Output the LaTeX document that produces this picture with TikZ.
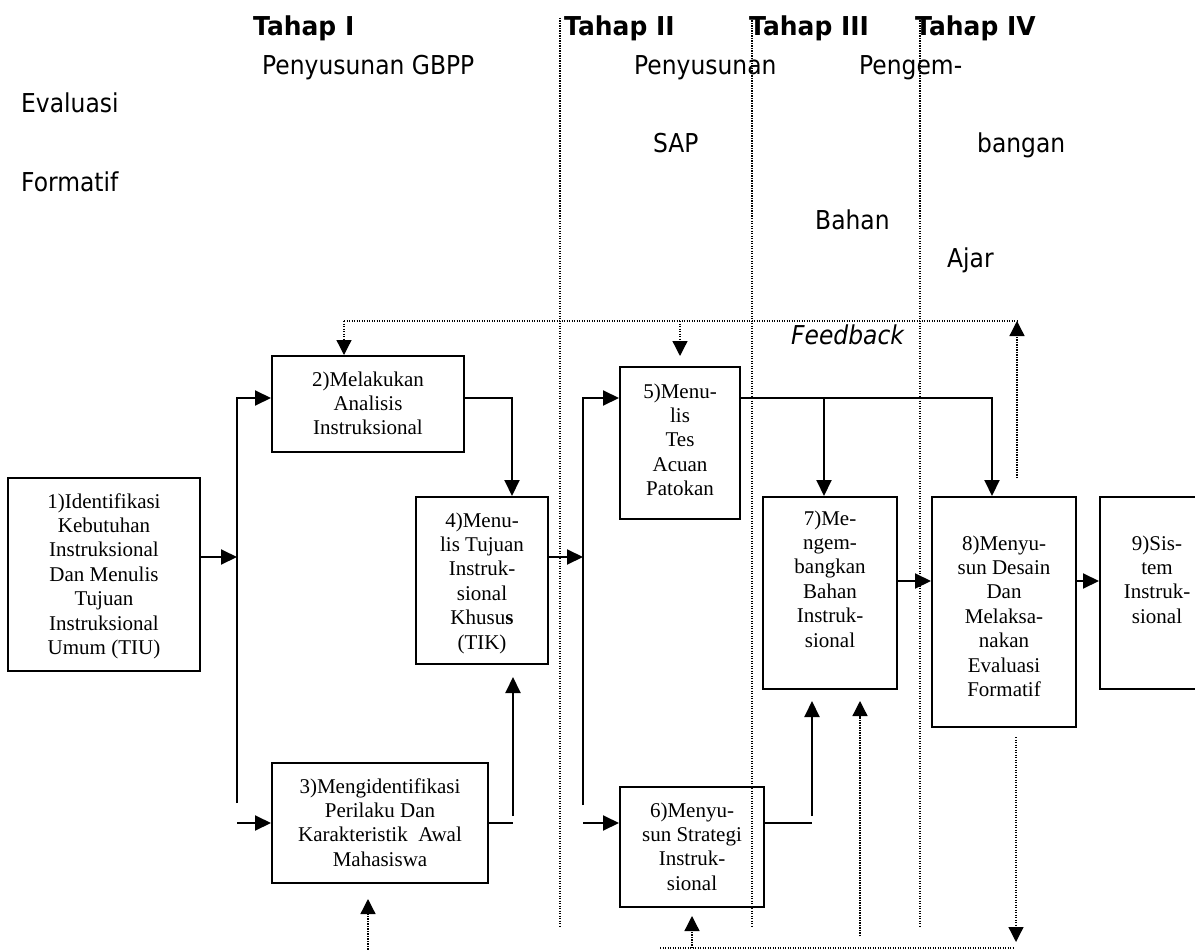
\documentclass[tikz,border=0pt]{standalone}
\usepackage{fontspec}
\setmainfont{Liberation Serif}
\newfontfamily\tahoma[FakeStretch=0.9]{DejaVu Sans}
\newfontfamily\tahomaw[FakeStretch=0.96]{DejaVu Sans}
\usetikzlibrary{arrows.meta}
\newcommand{\boxtext}[1]{\begin{tabular}[t]{@{}c@{}}#1\end{tabular}}
\begin{document}
\begin{tikzpicture}[x=1pt,y=-1pt,
  box/.style={draw, line width=2pt, inner sep=0pt},
  btxt/.style={anchor=base, inner sep=0pt, font=\fontsize{21}{24.4}\selectfont},
  lbl/.style={anchor=base west, inner sep=0pt, font=\tahoma\fontsize{26}{30}\selectfont},
  head/.style={lbl, font=\tahomaw\bfseries\fontsize{26}{30}\selectfont},
  conn/.style={line width=2pt},
  arr/.style={conn, -{Triangle[length=16pt,width=15pt]}},
  dots/.style={line width=1.3pt, dash pattern=on 1.3pt off 1.2pt},
  darr/.style={dots, -{Triangle[length=15pt,width=15pt]}},
  phase/.style={line width=1.3pt, dash pattern=on 1.3pt off 1.2pt}]
\useasboundingbox (0,0) rectangle (1195,950);
\clip (0,0) rectangle (1195,950);

% phase separators
\draw[phase] (560,18) -- (560,927);
\draw[phase] (752,18) -- (752,927);
\draw[phase] (920,18) -- (920,927);

% headings and labels
\node[head] (h1) at (253,36) {Tahap I};
\node[head] (h2) at (564,36) {Tahap II};
\node[head] (h3) at (749,36) {Tahap III};
\node[head] (h4) at (915,36) {Tahap IV};
\node[lbl] (l1) at (262,75) {Penyusunan GBPP};
\node[lbl] (l2) at (21,113) {Evaluasi};
\node[lbl] (l3) at (21,191) {Formatif};
\node[lbl] (l4) at (634,75) {Penyusunan};
\node[lbl] (l5) at (653,152) {SAP};
\node[lbl] (l6) at (859,75) {Pengem-};
\node[lbl] (l7) at (977,152) {bangan};
\node[lbl] (l8) at (815,229) {Bahan};
\node[lbl] (l9) at (947,267) {Ajar};
\node[lbl, font=\tahoma\itshape\fontsize{26}{30}\selectfont] (fb) at (791,344) {Feedback};

% boxes
\node[box, minimum width=192pt, minimum height=193pt] (b1) at (104,574.5) {};
\node[box, minimum width=192pt, minimum height=96pt] (b2) at (368,404) {};
\node[box, minimum width=216pt, minimum height=120pt] (b3) at (380,823) {};
\node[box, minimum width=132pt, minimum height=167pt] (b4) at (482,580.5) {};
\node[box, minimum width=120pt, minimum height=152pt] (b5) at (680,443) {};
\node[box, minimum width=144pt, minimum height=120pt] (b6) at (692,847) {};
\node[box, minimum width=134pt, minimum height=192pt] (b7) at (830,593) {};
\node[box, minimum width=144pt, minimum height=230pt] (b8) at (1004,612) {};
\node[box, minimum width=115pt, minimum height=192pt] (b9) at (1157.5,593) {};

% box texts
\node[btxt] (t1) at (104,508) {\boxtext{1)Identifikasi\\Kebutuhan\\Instruksional\\Dan Menulis\\Tujuan\\Instruksional\\Umum (TIU)}};
\node[btxt] (t2) at (368,386) {\boxtext{2)Melakukan\\Analisis\\Instruksional}};
\node[btxt] (t3) at (380,793) {\boxtext{3)Mengidentifikasi\\Perilaku Dan\\Karakteristik\ \ Awal\\Mahasiswa}};
\node[btxt] (t4) at (482,527) {\boxtext{4)Menu-\\lis Tujuan\\Instruk-\\sional\\Khusu\textbf{s}\\(TIK)}};
\node[btxt] (t5) at (680,398) {\boxtext{5)Menu-\\lis\\Tes\\Acuan\\Patokan}};
\node[btxt] (t6) at (692,817) {\boxtext{6)Menyu-\\sun Strategi\\Instruk-\\sional}};
\node[btxt] (t7) at (830,525) {\boxtext{7)Me-\\ngem-\\bangkan\\Bahan\\Instruk-\\sional}};
\node[btxt] (t8) at (1004,550) {\boxtext{8)Menyu-\\sun Desain\\Dan\\Melaksa-\\nakan\\Evaluasi\\Formatif}};
\node[btxt] (t9) at (1157,550) {\boxtext{9)Sis-\\tem\\Instruk-\\sional}};

% junction coordinates
\coordinate (j1t) at (237,398);
\coordinate (j1m) at (237,557);
\coordinate (j1b) at (237,803);
\coordinate (j1c) at (237,823);
\coordinate (k2) at (512,398);
\coordinate (k3a) at (513,823);
\coordinate (k3b) at (513,816);
\coordinate (k3c) at (513,677);
\coordinate (j2t) at (583,398);
\coordinate (j2m) at (583,557);
\coordinate (j2b) at (583,805);
\coordinate (j2c) at (583,823);
\coordinate (k5) at (992,398);
\coordinate (k5a) at (824,398);
\coordinate (k6a) at (812,823);
\coordinate (k6b) at (812,816);
\coordinate (k6c) at (812,701);
\coordinate (k7) at (0,581);

% solid connectors
\draw[arr] (b1.east |- j1m) -- (j1m);
\draw[arr] (j1b) -- (j1t) -- (b2.west |- j1t);
\draw[arr] (j1c) -- (b3.west |- j1c);
\draw[arr] (b2.east |- k2) -- (k2) -- (b4.north -| k2);
\draw[conn] (b3.east |- k3a) -- (k3a);
\draw[arr] (k3b) -- (k3c);
\draw[arr] (b4.east |- j2m) -- (j2m);
\draw[arr] (j2b) -- (j2t) -- (b5.west |- j2t);
\draw[arr] (j2c) -- (b6.west |- j2c);
\draw[arr] (b5.east |- k5) -- (k5) -- (b8.north -| k5);
\draw[arr] (k5a) -- (b7.north -| k5a);
\draw[conn] (b6.east |- k6a) -- (k6a);
\draw[arr] (k6b) -- (k6c);
\draw[arr] (b7.east |- k7) -- (b8.west |- k7);
\draw[arr] (b8.east |- k7) -- (b9.west |- k7);

% feedback (dotted)
\coordinate (f1) at (344,321);
\coordinate (f2) at (1017,321);
\coordinate (f3) at (1017,478);
\coordinate (f5) at (680,321);
\coordinate (f5b) at (680,356);
\draw[dots] (f1) -- (f2);
\draw[darr] (f1) -- (b2.north -| f1);
\draw[darr] (f5) -- (f5b);
\draw[darr] (f3) -- (f2);

\coordinate (g1) at (1016,737);
\coordinate (g2) at (1016,942);
\coordinate (g3) at (660,948);
\coordinate (g4) at (1013,948);
\coordinate (g5) at (692,948);
\coordinate (g6) at (692,916);
\coordinate (g7) at (368,952);
\coordinate (g8) at (368,899);
\coordinate (g9) at (860,936);
\coordinate (g10) at (860,701);
\draw[darr] (g1) -- (g2);
\draw[dots] (g3) -- (g4);
\draw[darr] (g5) -- (g6);
\draw[darr] (g7) -- (g8);
\draw[darr] (g9) -- (g10);
\end{tikzpicture}
\end{document}
